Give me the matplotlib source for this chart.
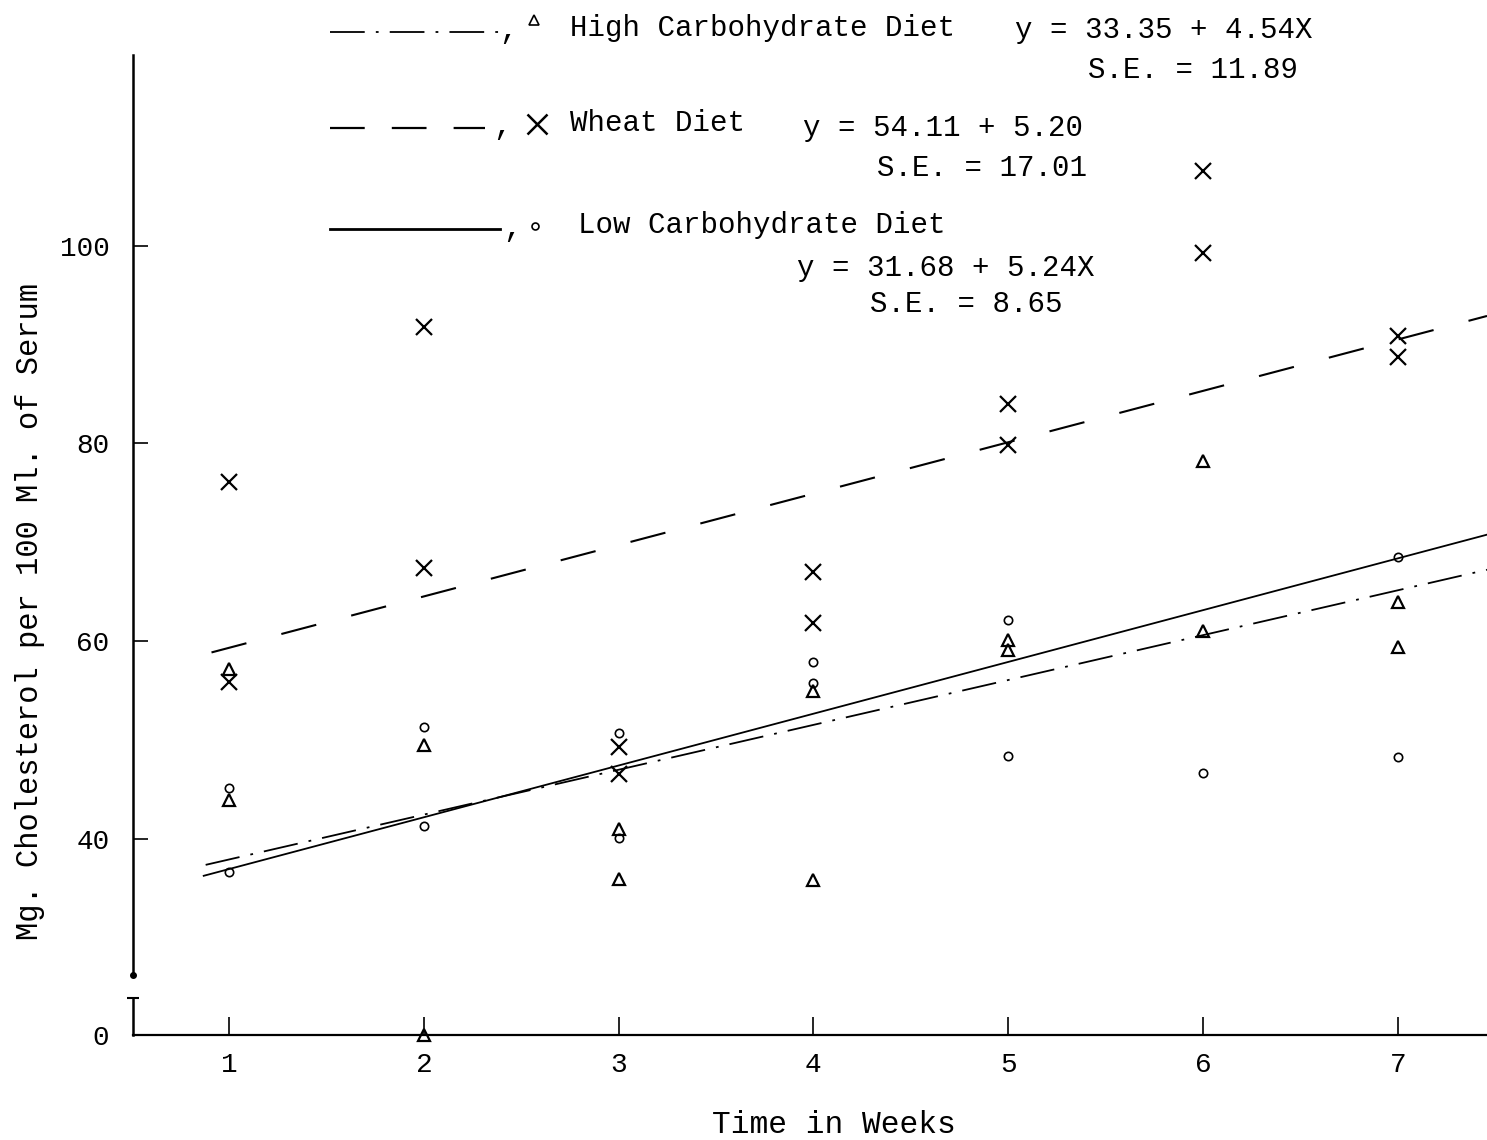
import numpy as np
import matplotlib.pyplot as plt
from matplotlib.lines import Line2D

plt.rcParams['lines.scale_dashes'] = False
MONO = 'Liberation Mono'

##############################################################################
# DATA
##############################################################################
weeks = [1, 2, 3, 4, 5, 6, 7]

# individual observations, mg cholesterol / 100 ml serum
high_carb_wk = [1, 1, 2, 2, 3, 3, 4, 4, 5, 5, 6, 6, 7, 7]
high_carb = [57.2, 43.9, 49.5, 0.0, 41.0, 35.9, 54.9, 35.8, 60.1, 59.1, 78.2, 61.0, 63.9, 59.4]

wheat_wk = [1, 1, 2, 2, 3, 3, 4, 4, 5, 5, 6, 6, 7, 7]
wheat = [76.1, 55.8, 91.8, 67.4, 49.3, 46.5, 67.0, 61.8, 84.0, 79.8, 107.6, 99.3, 90.9, 88.7]

low_carb_wk = [1, 1, 2, 2, 3, 3, 4, 4, 5, 5, 6, 7, 7]
low_carb = [45.1, 36.6, 51.3, 41.3, 50.7, 40.1, 57.9, 55.7, 62.1, 48.4, 46.6, 68.5, 48.3]

# fitted lines: intercept, slope, S.E.
hc_fit = (33.35, 4.54, 11.89)
wh_fit = (54.11, 5.20, 17.01)
lc_fit = (31.68, 5.24, 8.65)

# where each hand drawn line starts (weeks)
hc_start, wh_start, lc_start = 0.88, 0.91, 0.87

yticks = [40, 60, 80, 100]

##############################################################################
# FIGURE
##############################################################################
W, H = 1487, 1140
fig = plt.figure(figsize=(W / 100, H / 100), dpi=100)


def fx(p):
    return p / W


def fy(p):
    return 1 - p / H


XLIM = (0.507, 7.458)

# main (upper) part of the broken axis
ax = fig.add_axes([fx(133), fy(975), 1 - fx(133), fy(55) - fy(975)])
ax.set_xlim(*XLIM)
ax.set_ylim(26.2, 119.3)
for s in ['top', 'right', 'bottom']:
    ax.spines[s].set_visible(False)
ax.spines['left'].set_linewidth(1.8)
ax.set_xticks([])
ax.set_yticks(yticks)
ax.set_yticklabels([str(t) for t in yticks], fontfamily=MONO, fontsize=20)
ax.tick_params(axis='y', direction='in', length=11, width=1.2, pad=17)
ax.patch.set_alpha(0)
# little dot at the broken end of the axis
ax.plot([XLIM[0]], [26.2], 'o', color='black', ms=4, clip_on=False)

# lower strip holding the zero line
bx = fig.add_axes([fx(133), fy(1050), 1 - fx(133), fy(998.4) - fy(1050)])
bx.set_xlim(*XLIM)
bx.set_ylim(-1.5, 3.7)
for s in ['top', 'right']:
    bx.spines[s].set_visible(False)
bx.spines['bottom'].set_position(('data', 0))
bx.spines['bottom'].set_linewidth(1.6)
bx.spines['left'].set_bounds(0, 3.7)
bx.spines['left'].set_linewidth(1.8)
bx.set_xticks(weeks)
bx.set_xticklabels([str(w) for w in weeks], fontfamily=MONO, fontsize=20)
bx.tick_params(axis='x', direction='in', length=13, width=1.2, pad=12)
bx.set_yticks([0])
bx.set_yticklabels(['0'], fontfamily=MONO, fontsize=20)
bx.tick_params(axis='y', length=0, pad=17)
bx.set_yticks([3.7], minor=True)
bx.tick_params(axis='y', which='minor', direction='inout', length=8, width=1.5)
bx.patch.set_alpha(0)


# regression lines
def fit_line(fit, x0):
    xs = np.array([x0, XLIM[1]])
    return xs, fit[0] + fit[1] * xs


xs, ys = fit_line(wh_fit, wh_start)
ax.plot(xs, ys, color='black', lw=1.5, dashes=(26, 26))
xs, ys = fit_line(hc_fit, hc_start)
ax.plot(xs, ys, color='black', lw=1.3, dashes=(25, 8, 2, 8))
xs, ys = fit_line(lc_fit, lc_start)
ax.plot(xs, ys, color='black', lw=1.3)

# observations, on both parts of the axis
for a in (ax, bx):
    a.plot(wheat_wk, wheat, 'x', color='black', ms=12, mew=1.6, ls='none')
    a.plot(high_carb_wk, high_carb, '^', color='black', mfc='none', ms=9, mew=1.6, ls='none')
    a.plot(low_carb_wk, low_carb, 'o', color='black', mfc='none', ms=6, mew=1.2, ls='none')

# axis titles
fig.text(fx(30), fy(612), 'Mg. Cholesterol per 100 Ml. of Serum', rotation=90,
         ha='center', va='center', fontfamily=MONO, fontsize=22)
fig.text(fx(834), fy(1125), 'Time in Weeks', ha='center', va='center',
         fontfamily=MONO, fontsize=22.5)


##############################################################################
# KEY AND EQUATIONS
##############################################################################
def key_line(y, x1, **kw):
    fig.add_artist(Line2D([fx(330), fx(x1)], [fy(y), fy(y)], color='black',
                          transform=fig.transFigure, **kw))


key_line(32, 503, lw=1.3, dashes=(25, 8, 2, 8))
key_line(128, 485, lw=1.6, dashes=(25, 19.5))
key_line(229, 500, lw=2.0)

for (x, y) in [(508, 30), (502, 126), (512, 228)]:
    fig.text(fx(x), fy(y), ',', ha='center', va='center', fontfamily=MONO, fontsize=22)

fig.add_artist(Line2D([fx(534)], [fy(20)], marker='^', mfc='none', mec='black',
                      ms=7, mew=1.2, transform=fig.transFigure))
fig.add_artist(Line2D([fx(537)], [fy(124)], marker='x', color='black',
                      ms=14, mew=1.8, transform=fig.transFigure))
fig.add_artist(Line2D([fx(535)], [fy(226)], marker='o', mfc='none', mec='black',
                      ms=5, mew=1.2, transform=fig.transFigure))

names = ['High Carbohydrate Diet', 'Wheat Diet', 'Low Carbohydrate Diet']
name_pos = [(570, 28), (570, 123), (578, 225)]
for n, (x, y) in zip(names, name_pos):
    fig.text(fx(x), fy(y), n, ha='left', va='center', fontfamily=MONO, fontsize=21)

eq_pos = [((1015, 30), (1088, 70)), ((803, 128), (877, 168)), ((797, 268), (870, 304))]
for fit, (p1, p2), tail in zip([hc_fit, wh_fit, lc_fit], eq_pos, ['X', '', 'X']):
    fig.text(fx(p1[0]), fy(p1[1]), 'y = %.2f + %.2f%s' % (fit[0], fit[1], tail),
             ha='left', va='center', fontfamily=MONO, fontsize=21)
    fig.text(fx(p2[0]), fy(p2[1]), 'S.E. = %.2f' % fit[2],
             ha='left', va='center', fontfamily=MONO, fontsize=21)

fig.savefig('out.png', dpi=100)
